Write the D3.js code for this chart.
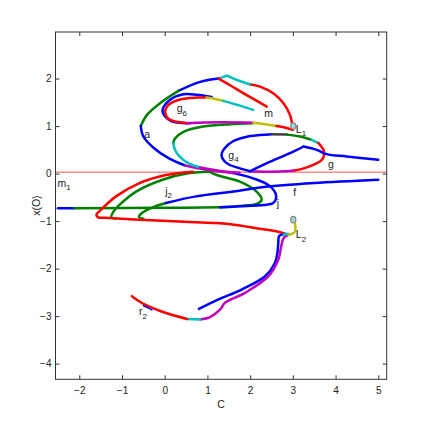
<!DOCTYPE html>
<html><head><meta charset="utf-8">
<script src="https://cdn.jsdelivr.net/npm/d3@7"></script>
<style>html,body{margin:0;padding:0;background:#fff;}</style>
</head><body>
<script>
// ---- axis settings ----
const xTicks = [-2,-1,0,1,2,3,4,5];
const yTicks = [-4,-3,-2,-1,0,1,2];
const xDomain = [-2.557, 5.197];
const yDomain = [-4.33, 2.98];
const xLabel = "C";
const yLabel = "x(O)";
const refLineY = 0.03;

// ---- curve segments (C, x(O)) ----
const loopRedRight = [[3.00,0.95],[2.93,1.24],[2.78,1.48],[2.54,1.69],[2.23,1.83],[1.99,1.88]];
const loopCyanTopA = [[1.99,1.88],[1.69,1.97],[1.45,2.06]];
const loopCyanTopB = [[1.45,2.06],[1.26,2.00]];
const loopBlueTop = [[1.26,2.00],[0.83,1.93],[0.32,1.74]];
const loopGreenLeft = [[0.32,1.74],[-0.11,1.48],[-0.42,1.23],[-0.56,1.00]];
const loopBlueLeft = [[-0.56,1.00],[-0.50,0.78],[-0.27,0.55],[0.10,0.32],[0.48,0.17]];
const loopPurple = [[0.48,0.17],[0.98,0.08],[1.45,0.03],[1.61,0.01]];
const jBlue = [[1.61,0.01],[2.07,-0.10],[2.47,-0.27],[2.61,-0.48],[2.54,-0.62],[2.31,-0.66],[1.76,-0.69],[1.30,-0.71]];
const mRed = [[1.26,2.00],[1.53,1.86],[1.92,1.65],[2.39,1.41]];

const g6OuterBlue = [[1.10,1.61],[0.75,1.66],[0.44,1.67],[0.12,1.55],[-0.05,1.34],[0.01,1.20],[0.16,1.10],[0.52,1.06]];
const g6InnerRed = [[0.98,1.60],[0.75,1.60],[0.36,1.56],[0.08,1.44],[0.01,1.30],[0.08,1.16],[0.28,1.09],[0.59,1.06]];
const g6Yellow = [[0.98,1.60],[1.18,1.57],[1.37,1.53]];
const g6Cyan = [[1.37,1.53],[1.72,1.44],[2.07,1.34]];
const g6BottomPurple = [[0.52,1.06],[1.30,1.08],[2.07,1.07]];
const g6BottomYellow = [[2.07,1.07],[2.35,1.04],[2.62,1.00]];
const g6BottomRed = [[2.62,1.00],[2.85,0.96],[3.00,0.92]];

const sGreen = [[2.07,1.06],[1.53,1.04],[0.90,0.99],[0.44,0.88],[0.24,0.74],[0.20,0.64]];
const sCyan = [[0.20,0.64],[0.24,0.50],[0.32,0.39],[0.55,0.22],[0.83,0.13]];
const sPurple = [[0.83,0.13],[1.06,0.09],[1.45,0.04],[1.75,0.02]];

const g4Blue = [[2.00,0.05],[1.76,0.11],[1.45,0.22],[1.33,0.39],[1.40,0.53],[1.60,0.68],[1.90,0.77],[2.23,0.81],[2.51,0.83]];
const g4Gray = [[2.51,0.83],[2.86,0.82]];
const g4Green = [[2.86,0.82],[3.17,0.78],[3.44,0.71]];
const g4Cyan = [[3.44,0.71],[3.60,0.64]];
const g4Red = [[3.60,0.64],[3.73,0.46],[3.68,0.29],[3.33,0.13],[3.01,0.06]];
const g4Purple = [[3.01,0.06],[2.47,0.04],[2.00,0.05]];
const gTailA = [[2.00,0.05],[2.47,0.25],[3.01,0.46],[3.25,0.57]];
const gTailB = [[3.25,0.57],[3.56,0.50],[3.79,0.41],[4.26,0.36],[5.00,0.29]];

const hBlue = [[-2.50,-0.73],[-2.12,-0.73]];
const hGreen = [[-2.12,-0.73],[0.00,-0.72],[1.30,-0.71]];
const greenJ = [[1.04,0.04],[1.22,-0.03],[1.76,-0.17],[2.15,-0.38],[2.27,-0.55],[2.15,-0.64],[1.76,-0.68],[1.30,-0.71]];
const greenArc1 = [[-1.15,-0.95],[-1.25,-0.92],[-1.20,-0.80],[-1.06,-0.66],[-0.67,-0.38],[-0.05,-0.13],[0.58,0.01],[1.04,0.04]];
const greenArc2 = [[-0.50,-0.95],[-0.60,-0.92],[-0.55,-0.84],[-0.28,-0.71],[0.03,-0.62]];
const fBlue = [[0.03,-0.62],[0.73,-0.48],[1.67,-0.37],[2.27,-0.29],[3.50,-0.20],[5.00,-0.13]];
const redArc = [[0.66,0.04],[0.03,-0.03],[-0.59,-0.20],[-1.14,-0.48],[-1.49,-0.76],[-1.60,-0.87],[-1.56,-0.92],[-1.40,-0.93],[-0.59,-0.97],[0.58,-1.02],[1.22,-1.04],[1.67,-1.08],[2.15,-1.15],[2.58,-1.21],[2.86,-1.28]];

const l2Cyan = [[2.78,-1.28],[2.91,-1.27]];
const l2Yellow = [[3.04,-1.00],[3.05,-1.22],[2.97,-1.27],[2.90,-1.29]];
const lowerBlue = [[2.86,-1.27],[2.68,-1.31],[2.66,-1.45],[2.64,-1.65],[2.58,-1.88],[2.35,-2.16],[1.80,-2.44],[1.26,-2.65],[0.80,-2.85]];
const lowerPurple = [[2.89,-1.29],[2.78,-1.36],[2.72,-1.57],[2.66,-1.81],[2.43,-2.16],[1.88,-2.51],[1.41,-2.72],[1.30,-2.86],[1.06,-3.02],[0.83,-3.07]];
const lowerCyan = [[0.83,-3.07],[0.52,-3.06]];
const lowerRed = [[0.52,-3.06],[0.01,-2.93],[-0.46,-2.76],[-0.77,-2.58]];
const r2Blue = [[-0.50,-2.78],[-0.30,-2.87]];

const markerPoints = [[3.01,1.00],[3.01,-0.97]];

// labels: [main, subscript, C, x(O)]
const labels = [
  ["g","6",0.28,1.29],["m","",2.33,1.20],["a","",-0.48,0.74],["L","1",3.07,0.86],
  ["g","4",1.49,0.31],["g","",3.82,0.12],["m","1",-2.51,-0.28],["j","2",0.01,-0.45],
  ["f","",3.01,-0.48],["j","",2.62,-0.70],["L","2",3.07,-1.36],["r","2",-0.60,-2.98]
];

// ---- drawing ----
const W = 427, H = 427;
const M = {left:55.5, right:386.7, top:32, bottom:379.3};
const COL = {b:"#0000ff", g:"#008000", r:"#ff0000", c:"#00bfbf", m:"#bf00bf", y:"#bfbf00", k:"#404040"};

const series = [
  [hBlue,"b"],[hGreen,"g"],[greenJ,"g"],[greenArc1,"g"],[greenArc2,"g"],[fBlue,"b"],
  [redArc,"r"],
  [loopRedRight,"r"],[loopCyanTopA,"c"],[loopCyanTopB,"c"],[loopBlueTop,"b"],[loopGreenLeft,"g"],
  [loopBlueLeft,"b"],[loopPurple,"m"],[jBlue,"b"],[mRed,"r"],
  [g6OuterBlue,"b"],[g6InnerRed,"r"],[g6Yellow,"y"],[g6Cyan,"c"],
  [sGreen,"g"],[sCyan,"c"],[sPurple,"m"],
  [g6BottomPurple,"m"],[g6BottomYellow,"y"],[g6BottomRed,"r"],
  [g4Blue,"b"],[g4Gray,"k"],[g4Green,"g"],[g4Cyan,"c"],[g4Red,"r"],[g4Purple,"m"],
  [gTailA,"b"],[gTailB,"b"],
  [lowerBlue,"b"],[lowerPurple,"m"],[lowerCyan,"c"],[lowerRed,"r"],[r2Blue,"b"],
  [l2Cyan,"c"],[l2Yellow,"y"]
];

const FONT = "'Liberation Sans', Arial, Helvetica, sans-serif";
const svg = d3.select("body").append("svg").attr("width",W).attr("height",H)
  .style("background","#fff").style("font-family",FONT);

const x = d3.scaleLinear().domain(xDomain).range([M.left, M.right]);
const y = d3.scaleLinear().domain(yDomain).range([M.bottom, M.top]);

svg.append("defs").append("clipPath").attr("id","pc")
  .append("rect").attr("x",M.left).attr("y",M.top).attr("width",M.right-M.left).attr("height",M.bottom-M.top);

const plot = svg.append("g").attr("clip-path","url(#pc)");

// reference line
plot.append("line").attr("x1",x(xDomain[0])).attr("x2",x(xDomain[1]))
  .attr("y1",y(refLineY)).attr("y2",y(refLineY))
  .attr("stroke","#ff0000").attr("stroke-width",0.9).attr("opacity",0.75);

const line = d3.line().x(d=>x(d[0])).y(d=>y(d[1])).curve(d3.curveCatmullRom.alpha(0.5));
series.forEach(([pts,c])=>{
  plot.append("path").attr("d",line(pts)).attr("fill","none")
    .attr("stroke",COL[c]).attr("stroke-width", pts===r2Blue?1.5:2.5)
    .attr("stroke-linecap","round").attr("stroke-linejoin","round");
});

plot.selectAll("ellipse.mk").data(markerPoints).enter().append("ellipse")
  .attr("cx",d=>x(d[0])).attr("cy",d=>y(d[1])).attr("rx",2.6).attr("ry",3.2)
  .attr("fill","#9fd8d8").attr("stroke","#888").attr("stroke-width",1.2);

// labels
const lab = svg.append("g").attr("font-size",10.5).attr("fill","#222");
labels.forEach(([t,s,cx,cy])=>{
  const tx = lab.append("text").attr("x",x(cx)).attr("y",y(cy)).text(t);
  if(s) tx.append("tspan").attr("dy",3.5).attr("font-size",8).text(s);
});

// axes frame & ticks
const ax = svg.append("g");
ax.append("rect").attr("x",M.left).attr("y",M.top).attr("width",M.right-M.left).attr("height",M.bottom-M.top)
  .attr("fill","none").attr("stroke","#333").attr("stroke-width",1);

const bottomAxis = d3.axisBottom(x).tickValues(xTicks).tickSize(-4).tickPadding(8).tickFormat(d3.format("d"));
const topAxis = d3.axisTop(x).tickValues(xTicks).tickSize(-4).tickFormat(()=>"");
const leftAxis = d3.axisLeft(y).tickValues(yTicks).tickSize(-4).tickPadding(4).tickFormat(d3.format("d"));
const rightAxis = d3.axisRight(y).tickValues(yTicks).tickSize(-4).tickFormat(()=>"");

function styleAxis(g){
  g.select(".domain").remove();
  g.selectAll(".tick line").attr("stroke","#333");
  g.selectAll(".tick text").attr("fill","#222").attr("font-size",10).attr("font-family",FONT);
}
ax.append("g").attr("transform",`translate(0,${M.bottom})`).call(bottomAxis).call(styleAxis);
ax.append("g").attr("transform",`translate(0,${M.top})`).call(topAxis).call(styleAxis);
ax.append("g").attr("transform",`translate(${M.left},0)`).call(leftAxis).call(styleAxis);
ax.append("g").attr("transform",`translate(${M.right},0)`).call(rightAxis).call(styleAxis);

svg.append("text").attr("x",(M.left+M.right)/2).attr("y",408).attr("text-anchor","middle")
  .attr("font-size",10.5).attr("fill","#222").text(xLabel);
svg.append("text").attr("transform",`translate(40,${(M.top+M.bottom)/2}) rotate(-90)`)
  .attr("text-anchor","middle").attr("font-size",10.5).attr("fill","#222").text(yLabel);
</script>
</body></html>
